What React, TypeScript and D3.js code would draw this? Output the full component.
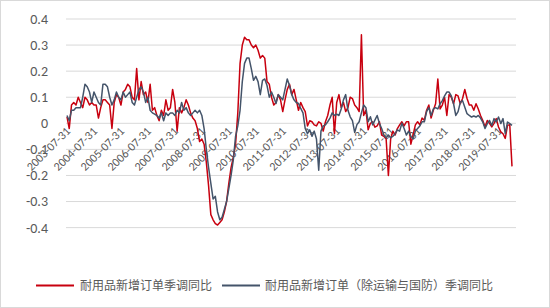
import React from "react";
import * as d3 from "d3";

const yTicks = [0.4, 0.3, 0.2, 0.1, 0, -0.1, -0.2, -0.3, -0.4, -0.5];
const yTickLabels = ["0.4", "0.3", "0.2", "0.1", "0", "-0.1", "-0.2", "-0.3", "-0.4", "-0.5"];
const xTickLabels = [
  "2003-07-31", "2004-07-31", "2005-07-31", "2006-07-31", "2007-07-31", "2008-07-31",
  "2009-07-31", "2010-07-31", "2011-07-31", "2012-07-31", "2013-07-31", "2014-07-31",
  "2015-07-31", "2016-07-31", "2017-07-31", "2018-07-31", "2019-07-31",
];
const seriesNames = ["耐用品新增订单季调同比", "耐用品新增订单（除运输与国防）季调同比"];

// monthly, 2003-07 .. 2020-01
const redSeries = [
  0.025, -0.02, 0.07, 0.08, 0.07, 0.1, 0.08, 0.06, 0.1, 0.09, 0.07, 0.08,
  0.07, 0.07, 0.02, 0.06, 0.09, 0.09, 0.08, 0.07, -0.02, 0.08, 0.11, 0.1,
  0.07, 0.12, 0.13, 0.15, 0.14, 0.1, 0.09, 0.21, 0.09, 0.16, 0.11, 0.12,
  0.08, 0.15, 0.05, 0.06,
  0.03, 0.01, 0.05, 0.03, 0.09, 0.05, 0.06, 0.13, 0.08, -0.03, 0.06, 0.04,
  0.06, 0.09, 0.07, 0.04, 0.02, 0.01, -0.02, -0.07, -0.06, -0.08, -0.15, -0.24,
  -0.35, -0.37, -0.385, -0.39, -0.38, -0.37, -0.34, -0.3, -0.23, -0.17, -0.13, -0.08,
  0.04, 0.23, 0.3, 0.33, 0.32, 0.32, 0.3, 0.29, 0.3, 0.28, 0.25, 0.26,
  0.25, 0.16, 0.15, 0.1, 0.07, 0.08, 0.11, 0.09, 0.045, 0.09, 0.13, 0.15,
  0.11, 0.13, 0.09, 0.05, 0.08, 0.06, 0.045, -0.01, 0.01, 0.006, -0.006, -0.01,
  0.006, 0.0, -0.03, 0.006, 0.03, 0.07, 0.1, -0.04,
  0.08, 0.11, 0.06, 0.08, 0.045, 0.06, 0.1, 0.095, 0.07, 0.06, 0.045, 0.34,
  0.03, 0.05, -0.025, 0.0, 0.006, -0.015, -0.01, 0.006, -0.045, -0.05, -0.06, -0.2,
  -0.06, -0.03, -0.045, -0.02, -0.006, 0.006, -0.01, 0.006, 0.006, -0.08, -0.045, -0.006,
  0.006, -0.006, 0.02, 0.012,
  0.05, 0.07, 0.02, 0.05, 0.075, 0.17, 0.055, 0.07, 0.1, 0.03, 0.11, 0.1,
  0.075, 0.11, 0.105, 0.075, 0.095, 0.13, 0.095, 0.07, 0.07, 0.05, 0.075, 0.055,
  0.03, 0.011, -0.014, 0.011, 0.0, -0.014, 0.0, 0.018, -0.014, -0.033, -0.04, -0.058,
  -0.008, -0.005, -0.165,
];

const blueSeries = [
  0.03, 0.01, 0.05, 0.05, 0.06, 0.06, 0.06, 0.1, 0.15, 0.14, 0.12, 0.08,
  0.12, 0.1, 0.08, 0.07, 0.15, 0.15, 0.14, 0.1, 0.07, 0.09, 0.12, 0.1,
  0.09, 0.12, 0.1, 0.11, 0.12, 0.08, 0.07, 0.1, 0.13, 0.14, 0.12, 0.08,
  0.1, 0.05, 0.04, 0.035,
  0.03, 0.02, 0.04, 0.01, 0.04, 0.03, 0.04, 0.04, 0.03, 0.05, 0.04, 0.08,
  0.05, 0.06, 0.04, 0.03, 0.04, 0.05, 0.04, 0.05, 0.03, -0.02, -0.1, -0.17,
  -0.23, -0.29, -0.28, -0.34, -0.37, -0.36, -0.33, -0.3, -0.25, -0.2, -0.14, -0.05,
  -0.01, 0.05, 0.16, 0.23, 0.25, 0.25, 0.21, 0.165, 0.18, 0.16, 0.11, 0.165,
  0.17, 0.145, 0.1, 0.12, 0.1, 0.076, 0.11, 0.1, 0.09, 0.13, 0.17, 0.145,
  0.11, 0.09, 0.08, 0.076, 0.057, 0.04, -0.02, -0.04, -0.025, -0.05, -0.03, -0.06,
  -0.18, -0.03, -0.01, -0.006, 0.006, 0.02, 0.04, 0.03,
  0.035, 0.03, 0.055, 0.09, 0.11, 0.05, 0.025, 0.01, -0.035, -0.005, 0.006, 0.04,
  0.07, 0.06, 0.006, 0.025, -0.006, 0.012, 0.03, 0.0, -0.02, -0.045, -0.055, -0.045,
  -0.055, -0.05, -0.04, -0.025, -0.03, 0.0, -0.02, -0.045, -0.03, -0.05, -0.06, -0.03,
  -0.02, -0.01, 0.006, 0.006,
  0.045, 0.06, 0.03, 0.055, 0.06, 0.055, 0.075, 0.087, 0.105, 0.12, 0.12, 0.105,
  0.075, 0.03, 0.045, 0.08, 0.087, 0.062, 0.037, 0.03, 0.024, 0.028, 0.024, 0.03,
  0.02, 0.005, -0.02, -0.001, 0.011, -0.008, 0.018, 0.005, 0.024, -0.001, 0.018, -0.04,
  0.005, -0.001, -0.008,
];

const W = 550;
const H = 308;
const RED = "#C8000F";
const BLUE = "#44546A";
const TEXT = "#595959";
const FONT = "Calibri, 'Liberation Sans', Arial, 'Noto Sans CJK SC', sans-serif";

export default function App() {
  const n = redSeries.length;
  const x = d3.scaleLinear().domain([0, n - 1]).range([67, 512]);
  const y = d3.scaleLinear().domain([-0.5, 0.4]).range([253.7, 19]);
  const gridX0 = 66;
  const gridX1 = 516;

  const line = d3
    .line<number>()
    .x((_, i) => x(i))
    .y((d) => y(d));

  return (
    <svg
      width={W}
      height={H}
      style={{ position: "absolute", left: 0, top: 0, background: "#fff" }}
      fontFamily={FONT}
    >
      <defs>
        <clipPath id="chartClip">
          <rect x={0} y={0} width={W} height={249} />
        </clipPath>
      </defs>
      <rect x={0.5} y={0.5} width={W - 1} height={H - 1} fill="#fff" stroke="#d9d9d9" />
      <g clipPath="url(#chartClip)">
        {yTicks.map((t, k) => (
          <g key={k}>
            <line
              x1={gridX0}
              x2={gridX1}
              y1={y(t)}
              y2={y(t)}
              stroke="#d9d9d9"
              strokeWidth={1}
            />
            <text
              x={48}
              y={y(t)}
              dy="0.35em"
              textAnchor="end"
              fontSize={14}
              fill={TEXT}
            >
              {yTickLabels[k]}
            </text>
          </g>
        ))}
        {xTickLabels.map((lab, k) => {
          const xi = x(k * 12);
          return (
            <text
              key={lab}
              transform={`translate(${xi + 4},${132}) rotate(-45)`}
              textAnchor="end"
              fontSize={12}
              fill={TEXT}
            >
              {lab}
            </text>
          );
        })}
        <path d={line(redSeries) || ""} fill="none" stroke={RED} strokeWidth={1.5} strokeLinejoin="round" />
        <path d={line(blueSeries) || ""} fill="none" stroke={BLUE} strokeWidth={1.5} strokeLinejoin="round" />
      </g>
      <g fontSize={12} fill={TEXT}>
        <line x1={36} x2={74} y1={285.5} y2={285.5} stroke={RED} strokeWidth={2} />
        <text x={80} y={285.5} dy="0.35em">{seriesNames[0]}</text>
        <line x1={222} x2={260} y1={285.5} y2={285.5} stroke={BLUE} strokeWidth={2} />
        <text x={265} y={285.5} dy="0.35em">{seriesNames[1]}</text>
      </g>
    </svg>
  );
}
